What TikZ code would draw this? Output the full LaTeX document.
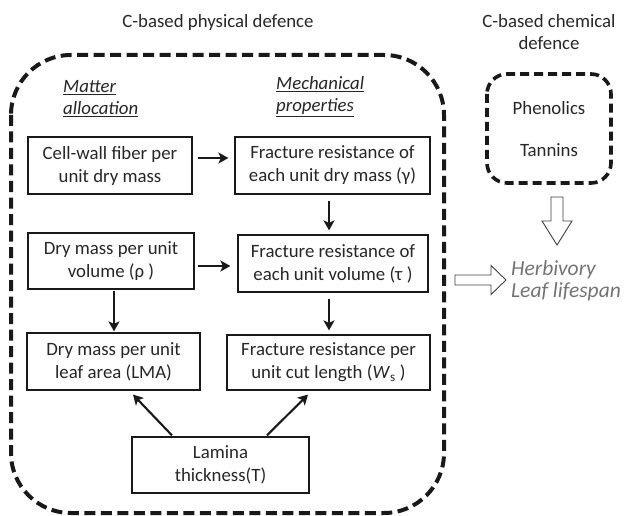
\documentclass[tikz,border=0pt]{standalone}
\usepackage{fontspec}
\setmainfont{Carlito}
\usetikzlibrary{arrows.meta,calc}
\tikzset{
  bx/.style={draw=black!90, line width=1.2pt, align=center, inner sep=0pt,
    font=\fontsize{18.8}{23}\selectfont, text=black!85},
  heading/.style={inner sep=0pt, font=\fontsize{18.8}{22}\selectfont\itshape, text=black!85, anchor=base west},
  title/.style={inner sep=0pt, font=\fontsize{18.8}{22}\selectfont, text=black!85, anchor=base},
  conn/.style={line width=2.1pt, black!90, -{Stealth[length=10pt,width=11pt,inset=2.5pt]}},
  bigdash/.style={line width=4pt, black!90, dash pattern=on 11pt off 5.5pt},
  hollow/.style={draw=black!75, fill=white, line width=0.9pt, line join=miter}
}
\begin{document}
\begin{tikzpicture}[x=1pt,y=-1pt]
\useasboundingbox (0,0) rectangle (624,516);
% titles
\node[title] (t1) at (218,28) {C-based physical defence};
\node[title] (t2a) at (549,28) {C-based chemical};
\node[title] (t2b) at (549,50) {defence};
% big dashed container
\draw[bigdash, rounded corners=60pt] (11,55) rectangle (444,513);
% chemical box
\draw[bigdash, line width=3.6pt, dash pattern=on 9pt off 5pt, rounded corners=20pt] (487,74) rectangle (611,183);
\node[title] (phen) at (549,115) {Phenolics};
\node[title] (tann) at (549,157) {Tannins};
% headings
\node[heading] (h1a) at (63,93) {\underline{Matter}};
\node[heading] (h1b) at (63,115) {\underline{allocation}};
\node[heading] (h2a) at (276,90) {\underline{Mechanical}};
\node[heading] (h2b) at (276,112) {\underline{properties}};
% boxes
\node[bx, minimum width=164pt, minimum height=57pt] (cell) at (110,165.5) {Cell-wall fiber per\\unit dry mass};
\node[bx, minimum width=195pt, minimum height=57pt] (gam) at (332.5,165.5) {Fracture resistance of\\each unit dry mass (γ)};
\node[bx, minimum width=166pt, minimum height=56pt] (rho) at (111,261) {Dry mass per unit\\volume (ρ )};
\node[bx, minimum width=190pt, minimum height=57pt] (tau) at (333,263.5) {Fracture resistance of\\each unit volume (τ )};
\node[bx, minimum width=173pt, minimum height=57pt] (lma) at (113.5,361.5) {Dry mass per unit\\leaf area (LMA)};
\node[bx, minimum width=203pt, minimum height=55pt] (ws) at (328.5,362.5) {Fracture resistance per\\unit cut length (\textit{W}\textsubscript{s} )};
\node[bx, minimum width=177pt, minimum height=56pt] (lam) at (220.5,465) {Lamina\\thickness(T)};
% connectors
\draw[conn] ($(cell.east)+(5,-7.5)$) -- ($(gam.west)+(-6,-7.5)$);
\draw[conn] ($(rho.east)+(3,5)$) -- ($(tau.west)+(-7,2.5)$);
\draw[conn] ($(gam.south)+(-3.5,6)$) -- ($(tau.north)+(-4,-4)$);
\draw[conn] ($(tau.south)+(-4,6)$) -- ($(ws.north)+(0.5,-4)$);
\draw[conn] ($(rho.south)+(3,1)$) -- ($(lma.north)+(0.5,-1)$);
\draw[conn] ($(lam.north)+(-48.5,-1)$) -- ($(lma.south)+(19.5,4)$);
\draw[conn] ($(lam.north)+(46.5,-1)$) -- ($(ws.south)+(-20.5,4)$);
% outcome text
\node[inner sep=0pt, anchor=base west, font=\fontsize{21.5}{22}\selectfont\itshape, text=black!55] (herb) at (511,275) {Herbivory};
\node[inner sep=0pt, anchor=base west, font=\fontsize{21.5}{22}\selectfont\itshape, text=black!55] (life) at (511,297) {Leaf lifespan};
% hollow arrows
\coordinate (dtop) at (557,197);
\draw[hollow] ($(dtop)+(-6,0)$) -- ($(dtop)+(6,0)$) -- ($(dtop)+(6,24)$) -- ($(dtop)+(15,24)$) -- ($(dtop)+(0,48)$) -- ($(dtop)+(-15,24)$) -- ($(dtop)+(-6,24)$) -- cycle;
\coordinate (rstart) at (455,280);
\draw[hollow] ($(rstart)+(0,-5)$) -- ($(rstart)+(36,-5)$) -- ($(rstart)+(36,-14.5)$) -- ($(rstart)+(51,0)$) -- ($(rstart)+(36,14.5)$) -- ($(rstart)+(36,5)$) -- ($(rstart)+(0,5)$) -- cycle;
\end{tikzpicture}
\end{document}
